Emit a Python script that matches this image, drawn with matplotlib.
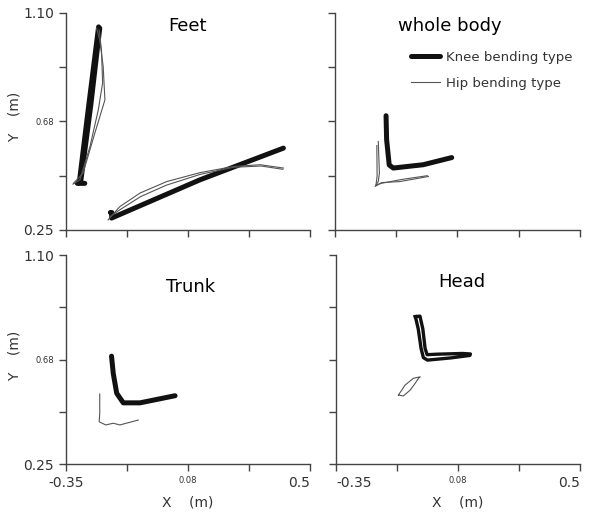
import numpy as np
import matplotlib
matplotlib.use("Agg")
import matplotlib.pyplot as plt

# axis ranges / ticks
x_ticks = [-0.35, -0.1375, 0.075, 0.2875, 0.5]
x_labels = ["-0.35", "", "0.08", "", "0.5"]
y_ticks = [0.25, 0.4625, 0.675, 0.8875, 1.10]
y_labels = ["0.25", "", "0.68", "", "1.10"]

# trajectories (x, y) in metres
feet_knee_x = [-0.284, -0.31, -0.303, -0.27, -0.236]
feet_knee_y = [0.432, 0.432, 0.437, 0.74, 1.045]
feet_knee2_x = [-0.298, -0.263, -0.232]
feet_knee2_y = [0.44, 0.74, 1.04]
feet_knee3_x = [-0.195, -0.19, -0.191, 0.117, 0.407]
feet_knee3_y = [0.318, 0.318, 0.296, 0.446, 0.57]
feet_hip1_x = [-0.325, -0.301, -0.266, -0.237, -0.222, -0.226, -0.234]
feet_hip1_y = [0.429, 0.446, 0.576, 0.72, 0.825, 0.955, 1.033]
feet_hip2_x = [-0.323, -0.29, -0.249, -0.214, -0.22, -0.232, -0.243]
feet_hip2_y = [0.433, 0.472, 0.629, 0.759, 0.89, 0.994, 1.04]
feet_hip3_x = [-0.203, -0.162, -0.092, 0.001, 0.117, 0.233, 0.326, 0.407]
feet_hip3_y = [0.289, 0.341, 0.394, 0.439, 0.474, 0.498, 0.505, 0.492]
feet_hip4_x = [-0.198, -0.16, -0.09, 0.0, 0.117, 0.233, 0.33, 0.405]
feet_hip4_y = [0.30, 0.33, 0.38, 0.425, 0.467, 0.495, 0.50, 0.487]

body_knee_x = [-0.173, -0.171, -0.162, -0.148, -0.044, 0.055]
body_knee_y = [0.697, 0.603, 0.504, 0.492, 0.505, 0.533]
body_hip1_x = [-0.2, -0.196, -0.2, -0.211, -0.188, -0.125, -0.026]
body_hip1_y = [0.596, 0.472, 0.439, 0.42, 0.435, 0.439, 0.459]
body_hip2_x = [-0.205, -0.204, -0.208, -0.19, -0.12, -0.03]
body_hip2_y = [0.58, 0.46, 0.425, 0.432, 0.447, 0.462]

trunk_knee_x = [-0.191, -0.185, -0.173, -0.15, -0.092, 0.03]
trunk_knee_y = [0.689, 0.619, 0.538, 0.499, 0.499, 0.528]
trunk_hip_x = [-0.232, -0.232, -0.234, -0.211, -0.185, -0.162, -0.098]
trunk_hip_y = [0.535, 0.456, 0.422, 0.409, 0.416, 0.409, 0.429]

head_knee_x = [-0.074, -0.064, -0.054, -0.046, -0.032, 0.05, 0.116, 0.118, 0.09, 0.0, -0.033, -0.04, -0.048, -0.058, -0.074]
head_knee_y = [0.850, 0.80, 0.72, 0.683, 0.673, 0.682, 0.692, 0.698, 0.700, 0.697, 0.695, 0.72, 0.80, 0.852, 0.850]
head_hip_x = [-0.133, -0.110, -0.081, -0.057, -0.063, -0.075, -0.092, -0.116, -0.133]
head_hip_y = [0.531, 0.571, 0.599, 0.605, 0.599, 0.578, 0.551, 0.527, 0.531]

fig = plt.figure(figsize=(5.93, 5.13), dpi=100)
pos = {
    "tl": [0.111, 0.552, 0.412, 0.423],
    "tr": [0.565, 0.552, 0.413, 0.423],
    "bl": [0.111, 0.0955, 0.412, 0.407],
    "br": [0.567, 0.0955, 0.411, 0.407],
}
axes = {}
for k, p in pos.items():
    ax = fig.add_axes(p)
    ax.set_xlim(-0.35, 0.5)
    ax.set_ylim(0.25, 1.10)
    for s in ["top", "right"]:
        ax.spines[s].set_visible(False)
    for s in ["left", "bottom"]:
        ax.spines[s].set_color("#444444")
        ax.spines[s].set_linewidth(1.0)
    ax.tick_params(direction="out", length=5, color="#444444", width=1.0)
    ax.set_xticks(x_ticks)
    ax.set_yticks(y_ticks)
    ax.set_xticklabels([])
    ax.set_yticklabels([])
    axes[k] = ax

for k in ["tl", "bl"]:
    ax = axes[k]
    ax.set_yticklabels(y_labels)
    for lab in ax.get_yticklabels():
        lab.set_fontsize(6 if lab.get_text() == "0.68" else 10)
        lab.set_color("#333333")
    ax.set_ylabel("Y    (m)", fontsize=10, color="#333333")
    ax.yaxis.set_label_coords(-0.18, 0.52)
for k in ["bl", "br"]:
    ax = axes[k]
    ax.set_xticklabels(x_labels)
    for lab in ax.get_xticklabels():
        lab.set_fontsize(6 if lab.get_text() == "0.08" else 10)
        lab.set_color("#333333")
    ax.set_xlabel("X    (m)", fontsize=10, color="#333333")
    ax.xaxis.set_label_coords(0.5, -0.15)
axes["bl"].get_xticklabels()[-1].set_ha("right")
axes["br"].get_xticklabels()[0].set_ha("left")
axes["br"].get_xticklabels()[-1].set_ha("right")

knee = dict(color="#111111", lw=3.6, solid_capstyle="round", solid_joinstyle="round")
hip = dict(color="#555555", lw=0.8)

ax = axes["tl"]
ax.plot(feet_knee_x, feet_knee_y, **knee)
ax.plot(feet_knee2_x, feet_knee2_y, **knee)
ax.plot(feet_knee3_x, feet_knee3_y, **knee)
for hx, hy in [(feet_hip1_x, feet_hip1_y), (feet_hip2_x, feet_hip2_y),
               (feet_hip3_x, feet_hip3_y), (feet_hip4_x, feet_hip4_y)]:
    ax.plot(hx, hy, **hip)
ax.text(0.5, 0.94, "Feet", transform=ax.transAxes, ha="center", va="center", fontsize=13)

ax = axes["tr"]
ax.plot(body_knee_x, body_knee_y, label="Knee bending type", **knee)
ax.plot(body_hip1_x, body_hip1_y, label="Hip bending type", **hip)
ax.plot(body_hip2_x, body_hip2_y, **hip)
ax.text(0.47, 0.94, "whole body", transform=ax.transAxes, ha="center", va="center", fontsize=13)
ax.legend(loc="upper right", bbox_to_anchor=(1.02, 0.88), frameon=False, fontsize=9.5,
          handlelength=2.2, handletextpad=0.5, labelspacing=1.0, labelcolor="#333333")

ax = axes["bl"]
ax.plot(trunk_knee_x, trunk_knee_y, **knee)
ax.plot(trunk_hip_x, trunk_hip_y, **hip)
ax.text(0.51, 0.85, "Trunk", transform=ax.transAxes, ha="center", va="center", fontsize=13)

ax = axes["br"]
ax.plot(head_knee_x, head_knee_y, color="#111111", lw=2.4, solid_joinstyle="round")
ax.plot(head_hip_x, head_hip_y, **hip)
ax.text(0.516, 0.87, "Head", transform=ax.transAxes, ha="center", va="center", fontsize=13)

fig.savefig("out.png", dpi=100)
